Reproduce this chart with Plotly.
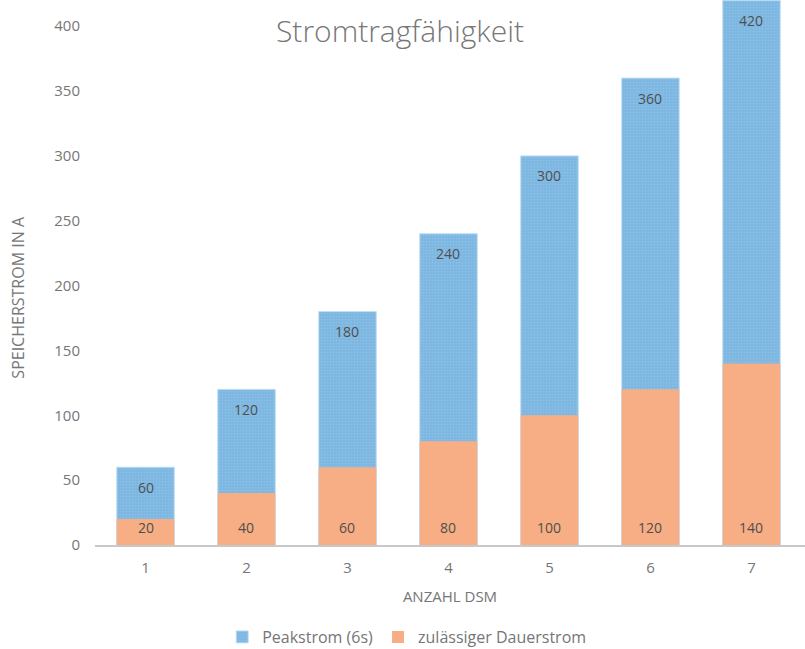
import plotly.graph_objects as go

# Anzahl der DSM-Module und zugehörige Ströme (A)
anzahl_dsm = [1, 2, 3, 4, 5, 6, 7]
peakstrom = [60, 120, 180, 240, 300, 360, 420]
dauerstrom = [20, 40, 60, 80, 100, 120, 140]
y_ticks = [0, 50, 100, 150, 200, 250, 300, 350, 400]

BLUE = "#7db7e1"
ORANGE = "#f7ae84"
TEXT = "#767676"
LABEL = "#4f4f4f"
FONT = "Open Sans, Lato, sans-serif"

fig = go.Figure()

fig.add_trace(go.Bar(
    x=anzahl_dsm, y=peakstrom, name="Peakstrom (6s)",
    marker=dict(color=BLUE, line=dict(color="#c3dff3", width=1),
                pattern=dict(shape=".", fgcolor="#9ccbec", size=3, solidity=0.25)),
    width=0.57,
))
fig.add_trace(go.Bar(
    x=anzahl_dsm, y=dauerstrom, name="zulässiger Dauerstrom",
    marker=dict(color=ORANGE, line=dict(width=0)),
    width=0.57,
))

# Wertebeschriftungen: Peak oben im Balken, Dauerstrom am Balkenfuß
annotations = []
for cat, p in zip(anzahl_dsm, peakstrom):
    annotations.append(dict(x=cat, y=p, text=str(p), showarrow=False,
                            yanchor="middle", yshift=-20,
                            font=dict(size=14, color=LABEL, family=FONT)))
for cat, d in zip(anzahl_dsm, dauerstrom):
    annotations.append(dict(x=cat, y=0, text=str(d), showarrow=False,
                            yanchor="middle", yshift=17.5,
                            font=dict(size=14, color=LABEL, family=FONT)))

# Achsentitel der y-Achse
annotations.append(dict(text="SPEICHERSTROM IN A", xref="paper", yref="paper",
                        x=-0.109, y=0.455, xanchor="center", yanchor="middle",
                        textangle=-90, showarrow=False,
                        font=dict(size=16, color=TEXT, family=FONT)))

fig.update_layout(
    width=805, height=649,
    margin=dict(l=95, r=0, t=0, b=104, autoexpand=False),
    paper_bgcolor="white", plot_bgcolor="white",
    barmode="overlay",
    font=dict(family=FONT, color=TEXT, size=15),
    title=dict(text="Stromtragfähigkeit", x=0.497, xanchor="center",
               y=0.951, yanchor="middle",
               font=dict(size=30, color=TEXT, family=FONT, weight=300)),
    xaxis=dict(
        range=[0.5, 7.53], tickvals=anzahl_dsm,
        showline=True, linecolor="#c8c8c8", linewidth=2,
        ticks="", showgrid=False, zeroline=False,
        ticklabelstandoff=8,
        tickfont=dict(size=15, color=TEXT),
        title=dict(text="ANZAHL DSM", font=dict(size=15, color=TEXT), standoff=15),
    ),
    yaxis=dict(
        range=[0, 420.2], tickvals=y_ticks,
        showgrid=False, zeroline=False, showline=False, ticks="",
        ticklabelstandoff=14,
        tickfont=dict(size=15, color=TEXT),
    ),
    legend=dict(orientation="h", x=0.439, xanchor="center",
                yref="container", y=0.0185, yanchor="middle",
                font=dict(size=16, color=TEXT), itemwidth=30, traceorder="normal"),
    annotations=annotations,
)

fig.write_html("out.html")
